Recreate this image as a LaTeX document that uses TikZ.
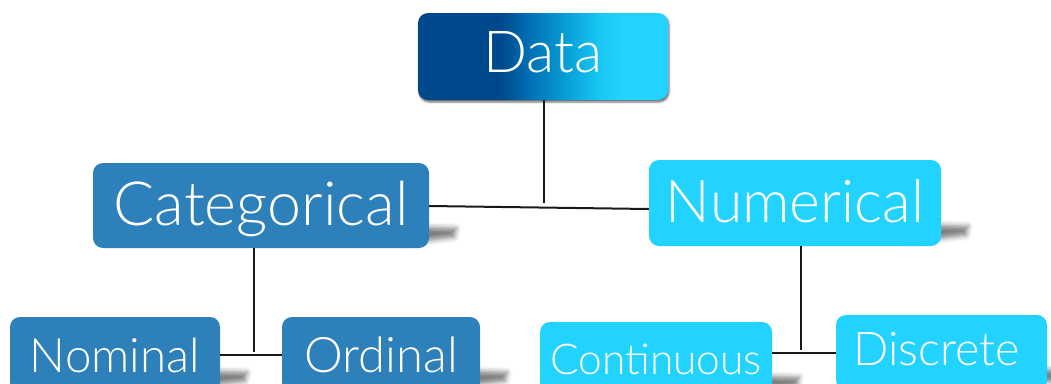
\documentclass[tikz,border=0pt]{standalone}
\usepackage{fontspec}
\setmainfont{Lato Light}
\usetikzlibrary{shadows.blur,calc}

\definecolor{catblue}{RGB}{45,128,186}
\definecolor{numcyan}{RGB}{34,211,255}
\definecolor{datadark}{RGB}{0,72,140}
\definecolor{datamid}{RGB}{0,110,180}
\definecolor{datalight}{RGB}{5,155,212}
\definecolor{datapale}{RGB}{25,200,245}

% left-to-right blend of the top box (the path spans 25bp..75bp)
\pgfdeclarehorizontalshading{datashade}{100bp}{%
  color(0bp)=(datadark); color(41.5bp)=(datadark); color(47bp)=(datamid);
  color(54bp)=(datalight); color(61.5bp)=(datapale); color(65.5bp)=(numcyan);
  color(100bp)=(numcyan)}

\pgfdeclarelayer{bg}
\pgfsetlayers{bg,main}

\begin{document}
\begin{tikzpicture}[x=1pt,y=-1pt,
  box/.style={rectangle, rounded corners=10pt, text=white, inner sep=0pt},
  catbox/.style={box, fill=catblue},
  numbox/.style={box, fill=numcyan},
  link/.style={line width=2pt, black!90},
  curl/.style={blur shadow={shadow xshift=0pt, shadow yshift=0pt,
      shadow blur radius=5pt, shadow opacity=50}}]
\useasboundingbox (0,0) rectangle (1051,383);

% boxes
\node[box, shade, shading=datashade, minimum width=250pt, minimum height=87pt,
      text height=39pt, text depth=8pt, font=\fontsize{58}{64}\selectfont,
      blur shadow={shadow xshift=1pt, shadow yshift=-2pt, shadow blur radius=2pt, shadow opacity=60}]
  (data) at (543,56.5) {Data};

\node[catbox, minimum width=336pt, minimum height=85pt,
      text height=42pt, text depth=3pt, font=\fontsize{61}{66}\selectfont]
  (cat) at (261,205.5) {Categorical};
\node[numbox, minimum width=292pt, minimum height=86pt,
      text height=41pt, text depth=3pt, font=\fontsize{59}{64}\selectfont]
  (num) at (795,203) {Numerical};

\node[catbox, minimum width=210pt, minimum height=75pt,
      text height=35pt, text depth=0pt, font=\fontsize{47.5}{52}\selectfont]
  (nom) at (115,354.5) {Nominal};
\node[catbox, minimum width=198pt, minimum height=75pt,
      text height=35pt, text depth=0pt, font=\fontsize{49}{54}\selectfont]
  (ord) at (381,354.5) {Ordinal};
\node[numbox, minimum width=232pt, minimum height=75pt,
      text height=30pt, text depth=1pt, font=\fontsize{42.5}{47}\selectfont]
  (cont) at (656,359.5) {Continuous};
\node[numbox, minimum width=211pt, minimum height=75pt,
      text height=32pt, text depth=7pt, font=\fontsize{46.5}{52}\selectfont]
  (disc) at (941.5,352.5) {Discrete\hspace*{10pt}};

% curled-paper shadows at the lower right corners
\begin{pgfonlayer}{bg}
  \foreach \n in {cat,num,nom,ord,cont,disc}{
    \path[curl] ($(\n.south east)+(-30,-22)$) -- ($(\n.south east)+(27,-20)$)
      -- ($(\n.south east)+(25,-11)$) -- ($(\n.south east)+(-30,-4)$) -- cycle;
  }
\end{pgfonlayer}

% connectors
\coordinate (jd) at (544,203);
\coordinate (jc) at (254,352);
\coordinate (jn) at (801,350);
\draw[link] (data.south -| jd) -- (jd);
\draw[link] ([yshift=-0.5pt]cat.east) -- ([yshift=-6pt]num.west);
\draw[link] (cat.south -| jc) -- (jc);
\draw[link] ([yshift=-0.5pt]nom.east) -- ([yshift=-0.5pt]ord.west);
\draw[link] (num.south -| jn) -- (jn);
\draw[link] ([yshift=6.5pt]cont.east) -- ([yshift=-0.5pt]disc.west);
\end{tikzpicture}
\end{document}
